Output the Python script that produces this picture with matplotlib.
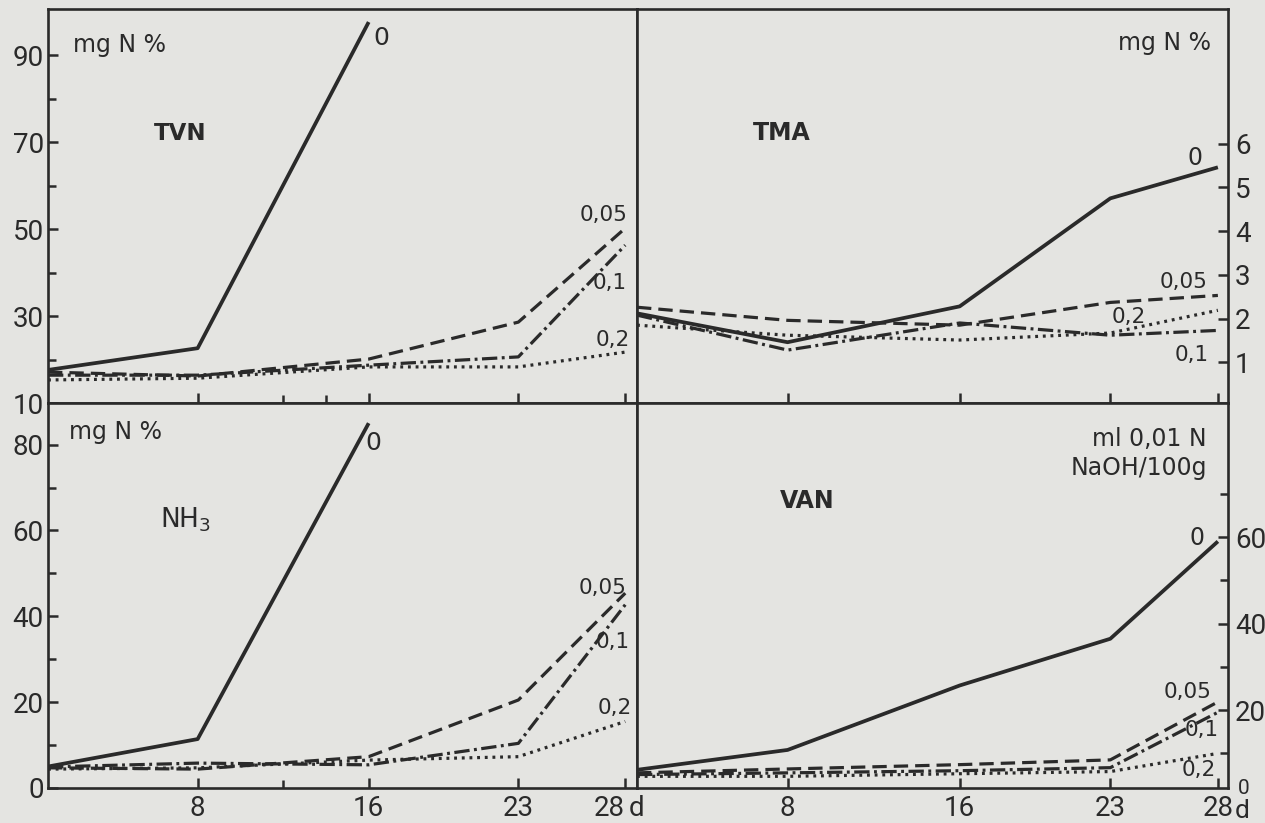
import matplotlib
matplotlib.use('Agg')
import matplotlib.pyplot as plt
from matplotlib.ticker import FixedLocator, NullFormatter

# ---------------- data ----------------
days = [1, 8, 16, 23, 28]
days_short = [1, 8, 16]
conc_labels = ['0', '0,05', '0,1', '0,2']

tvn_0 = [17.6, 22.6, 97.6]
tvn_005 = [17.1, 16.2, 20.1, 28.6, 50.2]
tvn_01 = [16.4, 16.4, 18.7, 20.6, 46.3]
tvn_02 = [15.3, 15.7, 18.3, 18.3, 21.7]

tma_0 = [2.12, 1.46, 2.28, 4.75, 5.46]
tma_005 = [2.26, 1.96, 1.85, 2.37, 2.53]
tma_01 = [2.08, 1.28, 1.90, 1.62, 1.73]
tma_02 = [1.85, 1.62, 1.51, 1.67, 2.19]

nh3_0 = [5.0, 11.4, 85.0]
nh3_005 = [4.7, 4.4, 7.3, 20.5, 45.4]
nh3_01 = [4.9, 5.8, 5.4, 10.4, 42.7]
nh3_02 = [4.4, 4.7, 6.5, 7.3, 15.5]

van_0 = [6.2, 10.8, 25.7, 36.5, 59.0]
van_005 = [5.5, 6.4, 7.4, 8.5, 21.9]
van_01 = [5.1, 5.5, 6.0, 6.7, 19.5]
van_02 = [4.7, 4.7, 5.3, 5.8, 10.0]

x_ticks = [8, 16, 23, 28]
x_tick_labels = ['8', '16', '23', '28']
tvn_major = [10, 30, 50, 70, 90]
tvn_minor = [20, 40, 60, 80]
tma_major = [1, 2, 3, 4, 5, 6]
nh3_major = [0, 20, 40, 60, 80]
nh3_minor = [10, 30, 50, 70]
van_major = [20, 40, 60]
van_minor = [10, 30, 50, 70]

# ---------------- style ----------------
PAPER = '#e4e4e1'
INK = '#2a2a2a'
plt.rcParams['font.family'] = ['DejaVu Sans']
plt.rcParams['mathtext.default'] = 'regular'
TICK_FONT = ['Roboto', 'DejaVu Sans']

LW = 2.3
styles = [
    dict(ls='-', lw=LW + 0.4),
    dict(ls=(0, (4.5, 2.2)), lw=LW),
    dict(ls=(0, (4.8, 1.4, 0.9, 1.4)), lw=LW),
    dict(ls=(0, (0.9, 1.5)), lw=LW),
]

fig = plt.figure(figsize=(12.65, 8.23), dpi=100, facecolor=PAPER)
W, H = 1265, 823
L, WL = 48 / W, 589 / W
R, WR = 637 / W, 591 / W
TB, TH = 1 - 403 / H, 394 / H
BB, BH = 1 - 788 / H, 385 / H

ax_tvn = fig.add_axes([L, TB, WL, TH])
ax_tma = fig.add_axes([R, TB, WR, TH])
ax_nh3 = fig.add_axes([L, BB, WL, BH])
ax_van = fig.add_axes([R, BB, WR, BH])

TICK_FS = 20


def base(ax, xlim, ylim):
    ax.set_facecolor(PAPER)
    ax.set_xlim(*xlim)
    ax.set_ylim(*ylim)
    for s in ax.spines.values():
        s.set_linewidth(1.9)
        s.set_color(INK)
    ax.tick_params(which='both', direction='in', colors=INK, width=1.8,
                   labelsize=TICK_FS, top=False)
    ax.tick_params(which='major', length=7)
    ax.tick_params(which='minor', length=6)
    ax.xaxis.set_major_locator(FixedLocator(x_ticks))


def fonts(ax):
    for lab in ax.get_xticklabels() + ax.get_yticklabels():
        lab.set_fontfamily(TICK_FONT)


def plot_series(ax, xs_list, ys_list):
    for xs, ys, st in zip(xs_list, ys_list, styles):
        ax.plot(xs, ys, color=INK, solid_capstyle='butt',
                dash_capstyle='butt', **st)


# TVN
base(ax_tvn, (1, 28.55), (10, 100.6))
plot_series(ax_tvn, [days_short, days, days, days], [tvn_0, tvn_005, tvn_01, tvn_02])
ax_tvn.yaxis.set_major_locator(FixedLocator(tvn_major))
ax_tvn.yaxis.set_minor_locator(FixedLocator(tvn_minor))
ax_tvn.xaxis.set_minor_locator(FixedLocator([12, 14]))
ax_tvn.xaxis.set_major_formatter(NullFormatter())
ax_tvn.tick_params(axis='y', pad=3)
fonts(ax_tvn)

# TMA
base(ax_tma, (1, 28.47), (0.07, 9.08))
plot_series(ax_tma, [days] * 4, [tma_0, tma_005, tma_01, tma_02])
ax_tma.yaxis.tick_right()
ax_tma.yaxis.set_major_locator(FixedLocator(tma_major))
ax_tma.xaxis.set_major_formatter(NullFormatter())
ax_tma.tick_params(axis='y', pad=5, left=False, right=True)
fonts(ax_tma)

# NH3
base(ax_nh3, (1, 28.55), (0, 89.7))
plot_series(ax_nh3, [days_short, days, days, days], [nh3_0, nh3_005, nh3_01, nh3_02])
ax_nh3.yaxis.set_major_locator(FixedLocator(nh3_major))
ax_nh3.yaxis.set_minor_locator(FixedLocator(nh3_minor))
ax_nh3.xaxis.set_minor_locator(FixedLocator([12]))
ax_nh3.set_xticklabels(x_tick_labels)
ax_nh3.tick_params(axis='y', pad=3)
ax_nh3.tick_params(axis='x', pad=5)
ax_nh3.get_xticklabels()[-1].set_horizontalalignment('right')
fonts(ax_nh3)

# VAN
base(ax_van, (1, 28.47), (2, 91))
plot_series(ax_van, [days] * 4, [van_0, van_005, van_01, van_02])
ax_van.yaxis.tick_right()
ax_van.yaxis.set_major_locator(FixedLocator(van_major))
ax_van.yaxis.set_minor_locator(FixedLocator(van_minor))
ax_van.set_xticklabels(x_tick_labels)
ax_van.tick_params(axis='y', pad=5, left=False, right=True)
ax_van.tick_params(axis='x', pad=5)
fonts(ax_van)

# ---------------- annotations ----------------
def txt(ax, x, y, s, fs, **kw):
    kw.setdefault('ha', 'center')
    kw.setdefault('va', 'center')
    ax.text(x, y, s, transform=ax.transAxes, fontsize=fs, color=INK, **kw)

SER_FS = 15.5
ZERO_FS = 18
TITLE_KW = dict(fontweight='bold')

# TVN
txt(ax_tvn, 0.122, 0.909, 'mg N %', 17)
txt(ax_tvn, 0.224, 0.683, 'TVN', 16.5, **TITLE_KW)
txt(ax_tvn, 0.566, 0.926, conc_labels[0], ZERO_FS)
txt(ax_tvn, 0.944, 0.477, conc_labels[1], SER_FS)
txt(ax_tvn, 0.954, 0.305, conc_labels[2], SER_FS)
txt(ax_tvn, 0.958, 0.160, conc_labels[3], SER_FS)

# TMA
txt(ax_tma, 0.893, 0.914, 'mg N %', 17)
txt(ax_tma, 0.245, 0.685, 'TMA', 17, **TITLE_KW)
txt(ax_tma, 0.944, 0.622, conc_labels[0], ZERO_FS - 1)
txt(ax_tma, 0.924, 0.307, conc_labels[1], SER_FS)
txt(ax_tma, 0.832, 0.218, conc_labels[3], SER_FS)
txt(ax_tma, 0.939, 0.122, conc_labels[2], SER_FS)

# NH3
txt(ax_nh3, 0.115, 0.925, 'mg N %', 17)
txt(ax_nh3, 0.233, 0.696, 'NH$_{3}$', 19)
txt(ax_nh3, 0.552, 0.896, conc_labels[0], ZERO_FS)
txt(ax_nh3, 0.941, 0.519, conc_labels[1], SER_FS)
txt(ax_nh3, 0.959, 0.379, conc_labels[2], SER_FS)
txt(ax_nh3, 0.963, 0.208, conc_labels[3], SER_FS)

# VAN
txt(ax_van, 0.964, 0.906, 'ml 0,01 N', 17, ha='right')
txt(ax_van, 0.964, 0.831, 'NaOH/100g', 17, ha='right')
txt(ax_van, 0.288, 0.745, 'VAN', 17, **TITLE_KW)
txt(ax_van, 0.948, 0.649, conc_labels[0], ZERO_FS - 1)
txt(ax_van, 0.932, 0.249, conc_labels[1], SER_FS)
txt(ax_van, 0.956, 0.151, conc_labels[2], SER_FS)
txt(ax_van, 0.951, 0.047, conc_labels[3], SER_FS)

# day unit marks and the VAN zero
fig.text(637 / W, 1 - 808 / H, 'd', fontsize=TICK_FS, color=INK,
         ha='center', va='center', family=TICK_FONT)
fig.text(1242 / W, 1 - 811 / H, 'd', fontsize=TICK_FS - 1, color=INK,
         ha='center', va='center', family=TICK_FONT)
fig.text(1244 / W, 1 - 788 / H, '0', fontsize=15, color=INK,
         ha='center', va='center', family=TICK_FONT)

fig.savefig('out.png', dpi=100, facecolor=PAPER)
